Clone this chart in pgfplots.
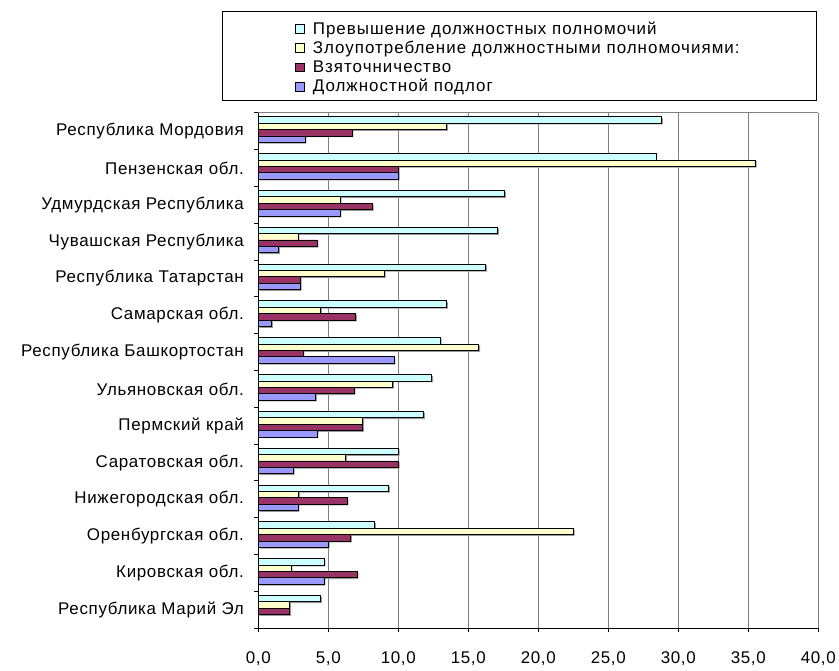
\documentclass[border=0pt]{standalone}
\usepackage{pgfplots}
\pgfplotsset{compat=1.18}
\usepackage{fontspec}
\setmainfont{Liberation Sans}
\definecolor{cyanb}{HTML}{CCFFFF}
\definecolor{yelb}{HTML}{FFFFCC}
\definecolor{redb}{HTML}{993366}
\definecolor{blueb}{HTML}{9999FF}
\definecolor{gridg}{HTML}{808080}
\tikzset{shad/.style={preaction={fill=gray!80, draw=none, transform canvas={xshift=1.3bp, yshift=-1.3bp}}}}
\begin{document}
\begin{tikzpicture}
\useasboundingbox (-258.3bp,-42.7bp) rectangle (580.7bp,628.3bp);
\begin{axis}[
  at={(0,0)}, anchor=south west,
  scale only axis, width=560bp, height=515.6bp,
  xmin=0, xmax=40, ymin=-0.5, ymax=13.5,
  axis lines=left, axis line style={-, black, line width=1bp},
  clip=false,
  xtick={0,5,...,40},
  xticklabels={{0,0},{5,0},{10,0},{15,0},{20,0},{25,0},{30,0},{35,0},{40,0}},
  xmajorgrids, major grid style={draw=gridg, line width=1.2bp},
  ytick={-0.5,0.5,...,13.5},
  yticklabels={Республика Марий Эл, Кировская обл., Оренбургская обл., Нижегородская обл., Саратовская обл., Пермский край, Ульяновская обл., Республика Башкортостан, Самарская обл., Республика Татарстан, Чувашская Республика, Удмурдская Республика, Пензенская обл., Республика Мордовия, {}},
  tick align=outside, major tick length=4bp,
  tick style={black, line width=1bp},
  every tick label/.append style={font=\fontsize{17}{20}\selectfont\addfontfeature{LetterSpace=4}},
  yticklabel style={inner sep=0pt, xshift=-10.3bp, yshift=18.4bp},
  xticklabel style={inner sep=0pt, yshift=-19bp},
  legend style={draw=none, fill=none, inner sep=0pt, at={(rel axis cs:0.0655,1.1762)}, anchor=north west,
    font=\fontsize{17}{19}\selectfont\addfontfeature{LetterSpace=6},
    nodes={inner sep=0pt, text height=12bp, text depth=4bp},
    row sep=3.2bp, /tikz/every odd column/.append style={column sep=8bp}},
  legend cell align=left,
  legend image code/.code={\draw[#1, draw=black, line width=0.9bp] (0bp,-3.4bp) rectangle (8.8bp,5.4bp);},
  legend entries={Превышение должностных полномочий, Злоупотребление должностными полномочиями:, Взяточничество, Должностной подлог},
]
\addlegendimage{fill=cyanb}
\addlegendimage{fill=yelb}
\addlegendimage{fill=redb}
\addlegendimage{fill=blueb}
\addplot[xbar, bar width=6.4bp, bar shift=11.2bp, fill=cyanb, draw=black, line width=0.8bp, shad] coordinates {
(4.45,0) (4.7,1) (8.3,2) (9.3,3) (10.0,4) (11.8,5) (12.4,6) (13.0,7) (13.45,8) (16.25,9) (17.1,10) (17.6,11) (28.4,12) (28.8,13)};
\addplot[xbar, bar width=6.4bp, bar shift=4.8bp, fill=yelb, draw=black, line width=0.8bp, shad] coordinates {
(2.25,0) (2.35,1) (22.5,2) (2.9,3) (6.25,4) (7.45,5) (9.6,6) (15.75,7) (4.45,8) (9.0,9) (2.85,10) (5.85,11) (35.5,12) (13.45,13)};
\addplot[xbar, bar width=6.4bp, bar shift=-1.6bp, fill=redb, draw=black, line width=0.8bp, shad] coordinates {
(2.25,0) (7.05,1) (6.6,2) (6.35,3) (10.0,4) (7.45,5) (6.85,6) (3.2,7) (6.95,8) (3.0,9) (4.2,10) (8.15,11) (10.0,12) (6.7,13)};
\addplot[xbar, bar width=6.4bp, bar shift=-8.0bp, fill=blueb, draw=black, line width=0.8bp, shad] coordinates {
(4.7,1) (5.0,2) (2.85,3) (2.5,4) (4.2,5) (4.1,6) (9.7,7) (0.95,8) (3.0,9) (1.45,10) (5.85,11) (10.0,12) (3.35,13)};
\draw[gridg, line width=1.2bp] (rel axis cs:0,1) -- (rel axis cs:1,1);
\draw[black, line width=1bp] (rel axis cs:-0.0643,1.1959) rectangle (rel axis cs:0.9959,1.0246);
\end{axis}
\end{tikzpicture}
\end{document}
